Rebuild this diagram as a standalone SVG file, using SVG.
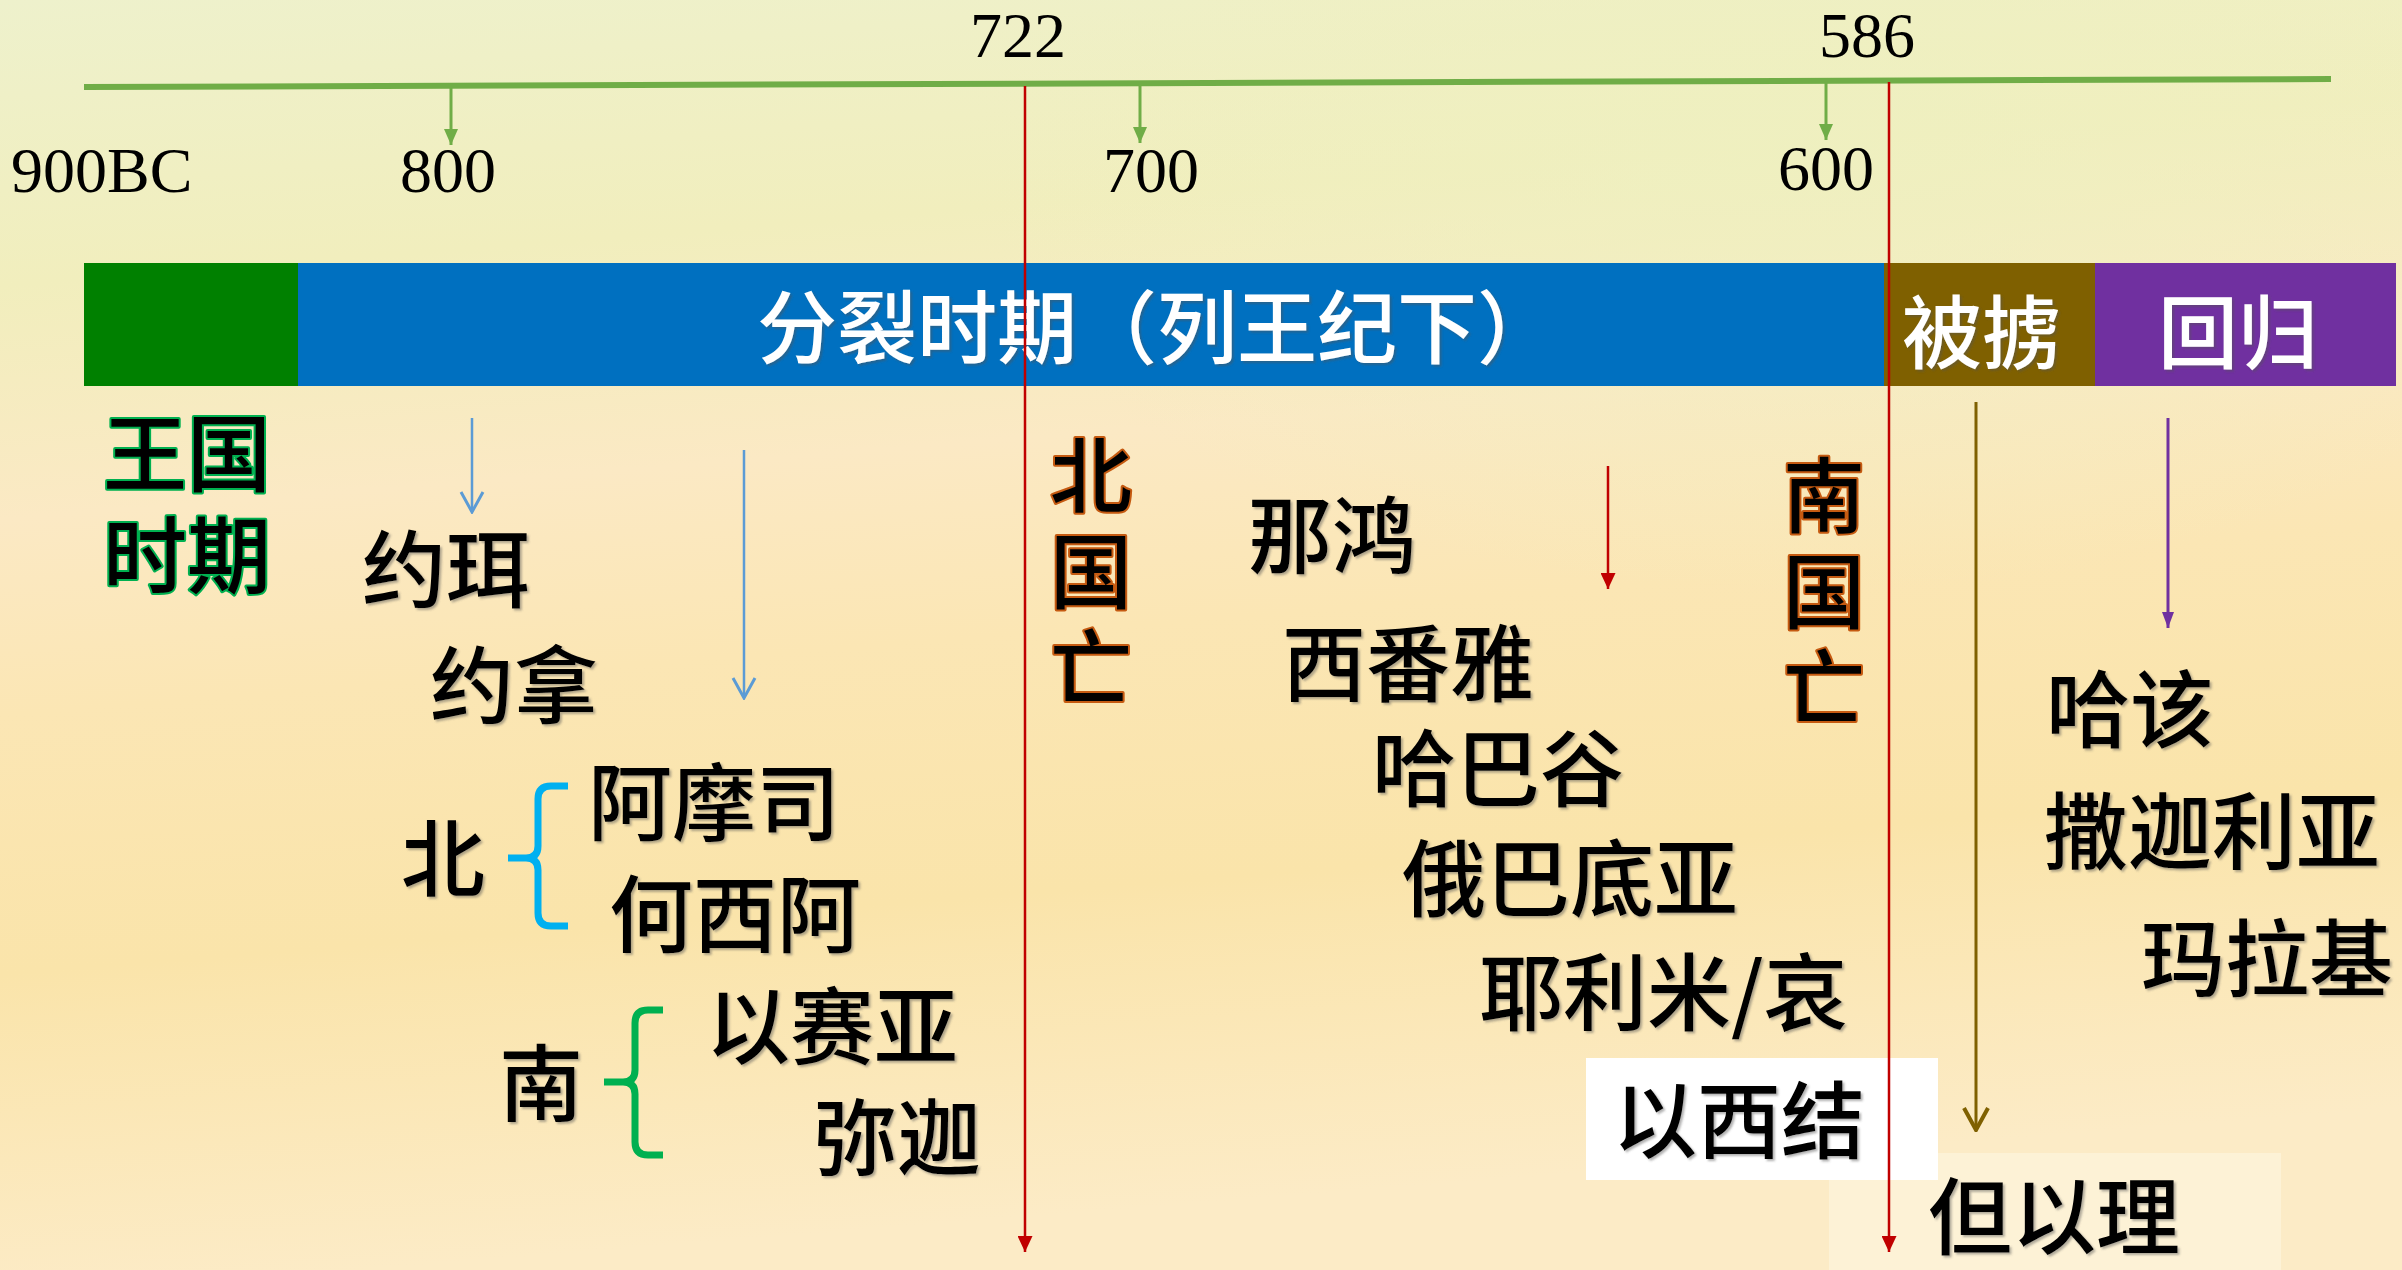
<svg xmlns="http://www.w3.org/2000/svg" width="2402" height="1270" viewBox="0 0 2402 1270">
<defs>
  <linearGradient id="bg" x1="0" y1="0" x2="0.15" y2="1">
    <stop offset="0" stop-color="#eef1cc"/>
    <stop offset="0.22" stop-color="#f1eebd"/>
    <stop offset="0.40" stop-color="#fbe9c4"/>
    <stop offset="0.55" stop-color="#fbe6b4"/>
    <stop offset="0.75" stop-color="#fae4aa"/>
    <stop offset="1" stop-color="#fcebc6"/>
  </linearGradient>
  <radialGradient id="glow" cx="0.75" cy="0.12" r="0.35">
    <stop offset="0" stop-color="#eef0c0" stop-opacity="0.8"/>
    <stop offset="1" stop-color="#eef0c0" stop-opacity="0"/>
  </radialGradient>
  <filter id="sh" x="-10%" y="-10%" width="130%" height="130%">
    <feDropShadow dx="2" dy="2" stdDeviation="1.2" flood-color="#555" flood-opacity="0.45"/>
  </filter>
  <marker id="mG" markerUnits="userSpaceOnUse" markerWidth="16" markerHeight="14" viewBox="0 0 16 14" refX="16" refY="7" orient="auto">
    <path d="M0,0 L16,7 L0,14 z" fill="#70ad47"/>
  </marker>
  <marker id="mR" markerUnits="userSpaceOnUse" markerWidth="16" markerHeight="15" viewBox="0 0 16 15" refX="16" refY="7.5" orient="auto">
    <path d="M0,0 L16,7.5 L0,15 z" fill="#c00000"/>
  </marker>
  <marker id="mP" markerUnits="userSpaceOnUse" markerWidth="16" markerHeight="12" viewBox="0 0 16 12" refX="16" refY="6" orient="auto">
    <path d="M0,0 L16,6 L0,12 z" fill="#7030a0"/>
  </marker>
  <marker id="mB" markerUnits="userSpaceOnUse" markerWidth="24" markerHeight="26" viewBox="0 0 24 26" refX="22" refY="13" orient="auto">
    <path d="M2,2 L22,13 L2,24" fill="none" stroke="#5b9bd5" stroke-width="3"/>
  </marker>
  <marker id="mBr" markerUnits="userSpaceOnUse" markerWidth="26" markerHeight="28" viewBox="0 0 26 28" refX="24" refY="14" orient="auto">
    <path d="M2,2 L24,14 L2,26" fill="none" stroke="#7f6000" stroke-width="4"/>
  </marker>
  <style>
    .num { font-family: "Liberation Serif", "Times New Roman", serif; font-size: 64px; fill: #000; text-anchor: middle; }
    .lbl { font-family: "Noto Sans CJK SC", "Noto Sans", sans-serif; font-size: 84px; font-weight: 500; fill: #000; filter: url(#sh); }
    .bar { font-family: "Noto Sans CJK SC", "Noto Sans", sans-serif; font-size: 80px; font-weight: 500; fill: #fff; filter: url(#sh); }
    .grn { font-family: "Noto Sans CJK SC", "Noto Sans", sans-serif; font-size: 84px; font-weight: 500; fill: #000; stroke: #00b050; stroke-width: 4; paint-order: stroke; stroke-linejoin: round; }
    .org { font-family: "Noto Sans CJK SC", "Noto Sans", sans-serif; font-size: 82px; font-weight: 500; fill: #000; stroke: #c55a11; stroke-width: 4; paint-order: stroke; stroke-linejoin: round; writing-mode: vertical-rl; text-orientation: upright; letter-spacing: 14px; }
    .tick { stroke: #70ad47; stroke-width: 3; fill: none; marker-end: url(#mG); }
    .red { stroke: #c00000; stroke-width: 2.5; fill: none; marker-end: url(#mR); }
    .brace { fill: none; stroke-width: 7; stroke-linejoin: round; }
  </style>
</defs>

<rect x="0" y="0" width="2402" height="1270" fill="url(#bg)"/>
<rect x="0" y="0" width="2402" height="1270" fill="url(#glow)"/>

<!-- timeline axis -->
<g id="axis">
  <line x1="84" y1="87" x2="2331" y2="79" stroke="#70ad47" stroke-width="6"/>
  <text class="num" x="11" y="192" style="text-anchor:start">900BC</text>
  <text class="num" x="448" y="192">800</text>
  <text class="num" x="1018" y="57">722</text>
  <text class="num" x="1151" y="192">700</text>
  <text class="num" x="1867" y="57">586</text>
  <text class="num" x="1826" y="190">600</text>
</g>

<!-- period bar -->
<g id="bar-kingdom"><rect x="84" y="263" width="214" height="123" fill="#008000"/></g>
<g id="bar-divided">
  <rect x="298" y="263" width="1586" height="123" fill="#0070c0"/>
  <text class="bar" x="757" y="357">分裂时期（列王纪下）</text>
</g>
<g id="bar-exile">
  <rect x="1884" y="263" width="211" height="123" fill="#7f6000"/>
  <text class="bar" x="1902" y="362">被掳</text>
</g>
<g id="bar-return">
  <rect x="2095" y="263" width="301" height="123" fill="#7030a0"/>
  <text class="bar" x="2158" y="362">回归</text>
</g>

<!-- white boxes -->
<rect x="1829" y="1153" width="452" height="117" fill="#fdf3d8" opacity="0.85"/>
<rect x="1586" y="1058" width="352" height="122" fill="#ffffff"/>

<!-- connectors -->
<g id="connectors">
  <line class="tick" x1="451" y1="88" x2="451" y2="145"/>
  <line class="tick" x1="1140" y1="84" x2="1140" y2="143"/>
  <line class="tick" x1="1826" y1="82" x2="1826" y2="140"/>
  <line class="red" x1="1025" y1="86" x2="1025" y2="1252"/>
  <line class="red" x1="1889" y1="82" x2="1889" y2="1252"/>
  <line x1="1608" y1="466" x2="1608" y2="589" stroke="#c00000" stroke-width="2.5" marker-end="url(#mR)"/>
  <line x1="472" y1="418" x2="472" y2="512" stroke="#5b9bd5" stroke-width="2.5" marker-end="url(#mB)"/>
  <line x1="744" y1="450" x2="744" y2="698" stroke="#5b9bd5" stroke-width="2.5" marker-end="url(#mB)"/>
  <line x1="1976" y1="402" x2="1976" y2="1130" stroke="#7f6000" stroke-width="3" marker-end="url(#mBr)"/>
  <line x1="2168" y1="418" x2="2168" y2="628" stroke="#7030a0" stroke-width="3" marker-end="url(#mP)"/>
  <path class="brace" stroke="#00b0f0" d="M568,786 H551 Q538,786 538,799 V846 Q538,858 526,858 H508 M526,858 Q538,858 538,870 V913 Q538,926 551,926 H568"/>
  <path class="brace" stroke="#00b050" d="M663,1010 H648 Q635,1010 635,1023 V1070 Q635,1082 623,1082 H604 M623,1082 Q635,1082 635,1094 V1142 Q635,1155 648,1155 H663"/>
</g>

<!-- labels -->
<g id="kingdom-period"><text class="grn" x="103" y="485">王国</text><text class="grn" x="103" y="587">时期</text></g>
<g id="joel"><text class="lbl" x="362" y="601">约珥</text></g>
<g id="jonah"><text class="lbl" x="430" y="717">约拿</text></g>
<g id="north"><text class="lbl" x="401" y="890">北</text></g>
<g id="amos"><text class="lbl" x="588" y="834">阿摩司</text></g>
<g id="hosea"><text class="lbl" x="609" y="946">何西阿</text></g>
<g id="south"><text class="lbl" x="499" y="1115">南</text></g>
<g id="isaiah"><text class="lbl" x="706" y="1058">以赛亚</text></g>
<g id="micah"><text class="lbl" x="813" y="1169">弥迦</text></g>
<g id="north-fall"><text class="org" x="1091" y="434">北国亡</text></g>
<g id="nahum"><text class="lbl" x="1248" y="567">那鸿</text></g>
<g id="zephaniah"><text class="lbl" x="1282" y="695">西番雅</text></g>
<g id="habakkuk"><text class="lbl" x="1372" y="800">哈巴谷</text></g>
<g id="obadiah"><text class="lbl" x="1402" y="910">俄巴底亚</text></g>
<g id="jeremiah"><text class="lbl" x="1479" y="1024">耶利米/哀</text></g>
<g id="south-fall"><text class="org" x="1824" y="454">南国亡</text></g>
<g id="ezekiel"><text class="lbl" x="1613" y="1152">以西结</text></g>
<g id="daniel"><text class="lbl" x="1928" y="1248">但以理</text></g>
<g id="haggai"><text class="lbl" x="2046" y="741">哈该</text></g>
<g id="zechariah"><text class="lbl" x="2044" y="863">撒迦利亚</text></g>
<g id="malachi"><text class="lbl" x="2141" y="990">玛拉基</text></g>
</svg>
